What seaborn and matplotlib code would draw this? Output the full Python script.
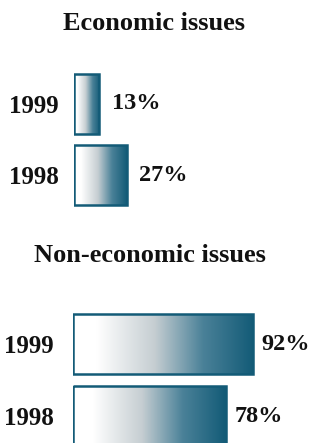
import numpy as np
import pandas as pd
import seaborn as sns
import matplotlib.pyplot as plt
from matplotlib.colors import LinearSegmentedColormap

years = ['1999', '1998']
economic = [13, 27]
non_economic = [92, 78]
titles = ['Economic issues', 'Non-economic issues']

teal = '#135b77'
fade = LinearSegmentedColormap.from_list(
    'fade', [(0, 'white'), (0.13, 'white'), (0.45, '#c6ced2'), (0.72, '#4a8198'), (1, teal)])

sns.set_style('white')
plt.rcParams['font.family'] = ['Liberation Serif', 'DejaVu Serif']

W, H = 314, 443
fig = plt.figure(figsize=(W / 100, H / 100), dpi=100)

def px_axes(left, top, width, height):
    # axes box given in pixels from the top-left corner
    return fig.add_axes([left / W, 1 - (top + height) / H, width / W, height / H])

ax1 = px_axes(74, 68, 240, 143)
ax2 = px_axes(73, 308, 241, 144)

grad = np.linspace(0, 1, 256).reshape(1, -1)

for ax, vals, pad, lpad in zip([ax1, ax2], [economic, non_economic], [11, 14], [9, 6]):
    df = pd.DataFrame({'year': years, 'share': vals})
    sns.barplot(data=df, x='share', y='year', orient='h', ax=ax, width=0.84,
                edgecolor=teal, linewidth=1.8)
    for p in ax.patches:
        p.set_facecolor('none')
        p.set_zorder(3)
        x0, y0, w, h = p.get_x(), p.get_y(), p.get_width(), p.get_height()
        im = ax.imshow(grad, cmap=fade, extent=[x0, x0 + w, y0 + h, y0],
                       aspect='auto', zorder=2, interpolation='bilinear')
        im.set_clip_path(p)
    ax.bar_label(ax.containers[0], labels=[f'{v}%' for v in vals], padding=lpad,
                 fontsize=17.5, fontweight='bold', color='#111111')
    ax.set_xlim(0, 123)
    ax.set_ylim(1.5, -0.5)
    ax.set_xlabel('')
    ax.set_ylabel('')
    ax.set_xticks([])
    ax.tick_params(axis='y', length=0, pad=pad, labelsize=18)
    for t in ax.get_yticklabels():
        t.set_fontweight('bold')
        t.set_color('#111111')
    sns.despine(ax=ax, left=True, bottom=True)

fig.text(154 / W, 1 - 23 / H, titles[0], ha='center', va='center',
         fontsize=19, fontweight='bold', color='#111111')
fig.text(150 / W, 1 - 255 / H, titles[1], ha='center', va='center',
         fontsize=19, fontweight='bold', color='#111111')

fig.savefig('out.png', dpi=100)
